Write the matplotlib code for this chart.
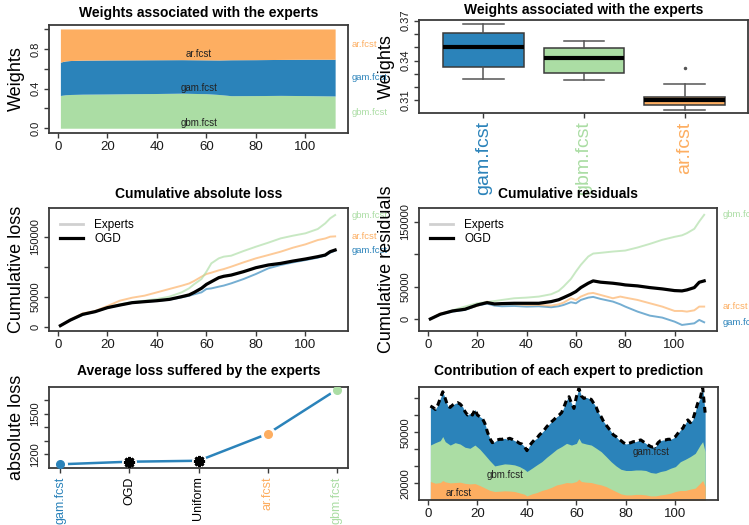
import numpy as np
import matplotlib
matplotlib.use("Agg")
import matplotlib.pyplot as plt
from matplotlib.transforms import blended_transform_factory as blend

plt.rcParams["font.family"] = ["Liberation Sans", "DejaVu Sans"]

BLUE, GREEN, ORANGE = "#2b83ba", "#abdda4", "#fdae61"
EDGE = "#3a3a3a"

# ── weights over time ───────────────────────────────────────────────────────
t_w   = [1, 3, 5, 10, 20, 30, 40, 50, 60, 65, 70, 80, 90, 100, 112]
w_gbm = [0.330, 0.337, 0.340, 0.343, 0.345, 0.348, 0.350, 0.353, 0.348, 0.340, 0.328, 0.329, 0.331, 0.329, 0.325]
w_ar  = [0.334, 0.322, 0.318, 0.314, 0.312, 0.311, 0.310, 0.309, 0.311, 0.312, 0.310, 0.309, 0.307, 0.305, 0.305]
w_gam = [round(1 - a - b, 3) for a, b in zip(w_gbm, w_ar)]

# ── boxplot of weights ──────────────────────────────────────────────────────
box_names  = ["gam.fcst", "gbm.fcst", "ar.fcst"]
box_colors = [BLUE, GREEN, ORANGE]
box_whislo = [0.3260, 0.3250, 0.3030]
box_q1     = [0.3355, 0.3306, 0.3063]
box_med    = [0.3500, 0.3418, 0.3105]
box_q3     = [0.3610, 0.3498, 0.3128]
box_whishi = [0.3675, 0.3548, 0.3225]
box_fliers = [[], [], [0.3343]]

# ── cumulative absolute loss ────────────────────────────────────────────────
t_loss   = [1, 5, 10, 15, 20, 25, 30, 35, 40, 45, 50, 53, 55, 58, 60, 62, 65, 67, 70, 75,
            80, 85, 90, 95, 100, 105, 108, 110, 112]
loss_ogd = [1700, 11000, 20500, 25000, 31700, 36000, 40000, 41700, 43300, 45500, 50000, 53000,
            57000, 64000, 70500, 75000, 81700, 84000, 86000, 91700, 98300, 102800, 105500,
            109400, 112800, 116700, 119400, 125000, 127800]
loss_gam = [1700, 10800, 20000, 24800, 31500, 35800, 39800, 41500, 43000, 45000, 48900, 51500,
            53900, 57200, 62800, 63800, 66700, 68500, 72200, 79400, 87800, 97200, 102800,
            107200, 111000, 115000, 118500, 123300, 126700]
loss_ar  = [1700, 11500, 22200, 26100, 34400, 43300, 48300, 51700, 57200, 62800, 68300, 72000,
            76100, 83300, 87800, 90000, 93900, 96000, 100000, 107200, 113900, 119400, 125000,
            131700, 137200, 144400, 147000, 150000, 150500]
loss_gbm = [1700, 11000, 20500, 25000, 31700, 37200, 41100, 43300, 46100, 50000, 57200, 63900,
            70600, 79400, 91700, 105600, 113900, 116700, 118300, 126100, 133300, 140000, 147200,
            151700, 155600, 162800, 172200, 180600, 186100]

# ── cumulative residuals ────────────────────────────────────────────────────
t_res   = [1, 5, 10, 15, 20, 24, 27, 30, 35, 40, 45, 50, 53, 55, 58, 60, 62, 65, 67, 70, 75, 78,
           80, 85, 90, 95, 100, 103, 105, 108, 110, 112]
res_ogd = [500, 7700, 12800, 15400, 22000, 25600, 23600, 24100, 24600, 24600, 24600, 27200, 30000,
           33300, 38500, 42600, 48700, 55400, 59000, 57000, 55400, 54000, 52800, 51300, 48700,
           46700, 44100, 43600, 45100, 48700, 56900, 59000]
res_gbm = [500, 7700, 13800, 19500, 24600, 26500, 28000, 29700, 32300, 33300, 34900, 38500, 43600,
           50300, 62100, 73300, 83600, 96400, 101000, 102100, 104100, 105000, 105600, 110300,
           115900, 122100, 126700, 129000, 132300, 139000, 150300, 160500]
res_ar  = [500, 8700, 12800, 15900, 20500, 27200, 23100, 23100, 23100, 22000, 22000, 21000, 23000,
           25600, 32300, 29700, 34900, 39500, 40500, 37400, 32300, 34900, 33300, 29700, 24600,
           19500, 12800, 12800, 11800, 13800, 19500, 19500]
res_gam = [500, 7700, 11800, 14400, 21000, 24100, 21000, 20000, 20500, 19500, 20000, 18500, 20000,
           22000, 26200, 24600, 29700, 33300, 34400, 31300, 27200, 23000, 19500, 11800, 5600,
           2600, -3600, -8700, -7700, -6200, -1000, -4600]

# ── average loss ────────────────────────────────────────────────────────────
avg_names  = ["gam.fcst", "OGD", "Uniform", "ar.fcst", "gbm.fcst"]
avg_values = [1127, 1146, 1153, 1351, 1676]
avg_colors = [BLUE, "black", "black", ORANGE, GREEN]

# ── contribution of each expert to prediction ───────────────────────────────
prediction = [65500, 64700, 63500, 66100, 70000, 73900, 70000, 65500, 64700, 66100,
              67000, 67500, 66700, 65100, 62200, 60200, 61200, 60200, 63500, 60200,
              59200, 58200, 55300, 50400, 46500, 43900, 44500, 45500, 45900, 45900,
              46500, 45900, 46500, 45900, 45100, 44500, 43500, 43100, 41600, 39200,
              42000, 43900, 45500, 46500, 48400, 49800, 51400, 53300, 54900, 56300,
              57600, 59200, 60200, 61600, 65100, 69000, 71000, 67100, 64100, 71000,
              75900, 71400, 70000, 70600, 70000, 69400, 67100, 64700, 61200, 59200,
              56300, 54300, 52400, 50400, 48400, 47500, 45900, 45100, 43900, 43100,
              43500, 43900, 44500, 44500, 45100, 45500, 44500, 43500, 42500, 41600,
              41200, 41600, 43900, 45100, 45500, 45500, 45900, 45900, 46500, 47500,
              49400, 51400, 52400, 55300, 57300, 55700, 57300, 62200, 67100, 70000,
              76500, 61600]
t_pred = list(range(1, len(prediction) + 1))
t_contrib = [1, 3, 5, 6, 7, 9, 11, 13, 15, 17, 19, 21, 23, 25, 27, 29, 31, 33, 35, 37, 39, 40,
             42, 44, 46, 48, 50, 52, 54, 56, 58, 60, 61, 62, 64, 66, 68, 70, 72, 74, 76, 78, 80,
             82, 84, 86, 88, 90, 92, 94, 96, 98, 100, 102, 104, 106, 108, 110, 111, 112]
top_ar_gbm = [42500, 43900, 45100, 47500, 44500, 42500, 43900, 43100, 41200, 40600, 42500, 40000,
              36700, 33300, 30200, 30800, 31400, 31200, 30800, 29800, 28200, 26900, 28800, 30800,
              32700, 35300, 37600, 40000, 41600, 43500, 42500, 43500, 46500, 43900, 43100, 42500,
              40600, 38600, 35700, 32700, 30200, 28200, 27500, 27500, 27800, 27800, 27500, 26300,
              25900, 26900, 27500, 28800, 29800, 32700, 34100, 35700, 37600, 42500, 44500, 38600]
top_ar = [21000, 20000, 20400, 21600, 20800, 20200, 20400, 20600, 19900, 19600, 19800, 18600,
          17200, 15800, 15100, 15300, 15500, 15400, 15100, 14300, 13500, 12500, 13700, 14500,
          15700, 16500, 17600, 19000, 19600, 20400, 20200, 21000, 22400, 21000, 20600, 20400,
          19600, 19000, 18000, 16500, 15100, 13700, 13100, 13100, 13400, 13400, 13100, 12500,
          12500, 13100, 13500, 14100, 15100, 15700, 15700, 16500, 17100, 20000, 21600, 18000]

# ── figure ──────────────────────────────────────────────────────────────────
W, H = 749, 525
fig = plt.figure(figsize=(W / 100, H / 100), dpi=100)
XLIM = (-3.6, 117.2)


def box(x0, y0, x1, y1):
    return fig.add_axes([x0 / W, 1 - y1 / H, (x1 - x0) / W, (y1 - y0) / H])


def style(ax, width_px):
    for s in ax.spines.values():
        s.set_color(EDGE)
        s.set_linewidth(1.3)
    ax.tick_params(colors=EDGE, labelcolor="#1a1a1a", length=3.6, width=1, pad=2.5, labelsize=9.5)
    ax.tick_params(axis="y", labelsize=8)
    ax.yaxis.set_label_coords(-24 / width_px, 0.5)


def rotate_y(ax):
    for lab in ax.get_yticklabels():
        lab.set_rotation(90)
        lab.set_va("center")
        lab.set_ha("right")


def right_label(ax, y, text, color, dx=0.012):
    ax.text(1 + dx, y, text, transform=blend(ax.transAxes, ax.transData), color=color,
            fontsize=6.8, va="center", ha="left", clip_on=False)


# 1. stacked weights
ax1 = box(49, 25, 348, 133)
style(ax1, 299)
lo = np.zeros(len(t_w))
for name, w, c in [("gbm.fcst", w_gbm, GREEN), ("gam.fcst", w_gam, BLUE), ("ar.fcst", w_ar, ORANGE)]:
    hi = lo + np.array(w)
    ax1.fill_between(t_w, lo, hi, color=c, lw=0)
    ax1.text(57, np.interp(57, t_w, lo) + 0.005, name, ha="center", va="bottom", fontsize=7, color="#222")
    right_label(ax1, (lo[-1] + hi[-1]) / 2, name, c)
    lo = hi
ax1.set_xlim(*XLIM)
ax1.set_ylim(-0.048, 1.04)
ax1.set_xticks(range(0, 101, 20))
ax1.set_yticks([0, 0.2, 0.4, 0.6, 0.8, 1.0])
ax1.set_yticklabels(["0.0", "", "0.4", "", "0.8", ""])
rotate_y(ax1)
ax1.set_ylabel("Weights", fontsize=13)
ax1.set_title("Weights associated with the experts", fontsize=10, fontweight="bold", pad=6)

# 2. boxplot of weights
ax2 = box(419, 20, 748, 113)
style(ax2, 329)
stats = [dict(whislo=a, q1=b, med=c, q3=d, whishi=e, fliers=f)
         for a, b, c, d, e, f in zip(box_whislo, box_q1, box_med, box_q3, box_whishi, box_fliers)]
bp = ax2.bxp(stats, positions=[1, 2, 3], widths=0.8, patch_artist=True,
             boxprops=dict(edgecolor=EDGE, linewidth=1.1),
             medianprops=dict(color="black", linewidth=3),
             whiskerprops=dict(color="#555555", linewidth=1.1),
             capprops=dict(color="#555555", linewidth=1.1),
             flierprops=dict(marker=".", markersize=3, markerfacecolor="#555555", markeredgecolor="#555555"))
for patch, c in zip(bp["boxes"], box_colors):
    patch.set_facecolor(c)
ax2.set_xlim(0.36, 3.63)
ax2.set_ylim(0.3005, 0.3705)
ax2.set_yticks([0.31, 0.32, 0.33, 0.34, 0.35, 0.36, 0.37])
ax2.set_yticklabels(["0.31", "", "", "0.34", "", "", "0.37"])
rotate_y(ax2)
ax2.set_xticks([1, 2, 3])
ax2.set_xticklabels(box_names, rotation=90, fontsize=14)
for lab, c in zip(ax2.get_xticklabels(), box_colors):
    lab.set_color(c)
ax2.set_ylabel("Weights", fontsize=13)
ax2.set_title("Weights associated with the experts", fontsize=10, fontweight="bold", pad=4.5)

# 3. cumulative loss
ax3 = box(49, 208, 348, 331)
style(ax3, 299)
for name, vals, c in [("gam.fcst", loss_gam, BLUE), ("ar.fcst", loss_ar, ORANGE), ("gbm.fcst", loss_gbm, GREEN)]:
    ax3.plot(t_loss, vals, color=c, lw=1.4, alpha=0.65)
    right_label(ax3, vals[-1], name, c)
ax3.plot([], [], color="#d0d0d0", lw=2, label="Experts")
ax3.plot(t_loss, loss_ogd, color="black", lw=2.3, label="OGD")
ax3.legend(loc="upper left", frameon=False, fontsize=8.5, handlelength=1.9, borderaxespad=0.55,
           labelspacing=0.15, handletextpad=1.0)
ax3.set_xlim(*XLIM)
ax3.set_ylim(-7200, 197800)
ax3.set_xticks(range(0, 101, 20))
ax3.set_yticks([0, 50000, 100000, 150000])
ax3.set_yticklabels(["0", "50000", "", "150000"])
rotate_y(ax3)
ax3.set_ylabel("Cumulative loss", fontsize=13)
ax3.set_title("Cumulative absolute loss", fontsize=10, fontweight="bold", pad=7)

# 4. cumulative residuals
ax4 = box(419, 208, 717, 331)
style(ax4, 298)
for name, vals, c in [("gam.fcst", res_gam, BLUE), ("ar.fcst", res_ar, ORANGE), ("gbm.fcst", res_gbm, GREEN)]:
    ax4.plot(t_res, vals, color=c, lw=1.4, alpha=0.65)
    right_label(ax4, vals[-1], name, c, dx=0.02)
ax4.plot([], [], color="#d0d0d0", lw=2, label="Experts")
ax4.plot(t_res, res_ogd, color="black", lw=2.3, label="OGD")
ax4.legend(loc="upper left", frameon=False, fontsize=8.5, handlelength=1.9, borderaxespad=0.55,
           labelspacing=0.15, handletextpad=1.0)
ax4.set_xlim(*XLIM)
ax4.set_ylim(-18000, 171000)
ax4.set_xticks(range(0, 101, 20))
ax4.set_yticks([0, 50000, 100000, 150000])
ax4.set_yticklabels(["0", "50000", "", "150000"])
rotate_y(ax4)
ax4.set_ylabel("Cumulative residuals", fontsize=13)
ax4.set_title("Cumulative residuals", fontsize=10, fontweight="bold", pad=7)

# 5. average loss
ax5 = box(49, 386.7, 348, 467.7)
style(ax5, 299)
xs = np.arange(1, len(avg_values) + 1)
ax5.plot(xs, avg_values, color=BLUE, lw=1.8, zorder=1)
ax5.scatter(xs, avg_values, s=95, color="white", zorder=2)
for x, v, c in zip(xs, avg_values, avg_colors):
    if c == "black":
        ax5.plot(x, v, marker=(8, 2, 0), ms=8, mew=2, color="black", zorder=3)
    else:
        ax5.plot(x, v, "o", ms=5.5, color=c, zorder=3)
ax5.set_xlim(0.84, 5.16)
ax5.set_ylim(1102, 1697)
ax5.set_yticks([1200, 1300, 1400, 1500, 1600])
ax5.set_yticklabels(["1200", "", "", "1500", ""])
rotate_y(ax5)
ax5.set_xticks(xs)
ax5.set_xticklabels(avg_names, rotation=90, fontsize=9)
for lab, c in zip(ax5.get_xticklabels(), avg_colors):
    lab.set_color(c)
ax5.set_ylabel("absolute loss", fontsize=13)
ax5.set_title("Average loss suffered by the experts", fontsize=10, fontweight="bold", pad=8.5)

# 6. contributions
ax6 = box(419, 386.7, 718, 500)
style(ax6, 299)
ax6.fill_between(t_pred, 0, prediction, color=BLUE, lw=0)
ax6.fill_between(t_contrib, 0, top_ar_gbm, color=GREEN, lw=0)
ax6.fill_between(t_contrib, 0, top_ar, color=ORANGE, lw=0)
ax6.plot(t_pred, prediction, color="black", lw=2.2, dashes=(2.0, 1.4))
ax6.text(90, 38500, "gam.fcst", fontsize=7, ha="center", va="center", color="#222")
ax6.text(31, 24900, "gbm.fcst", fontsize=7, ha="center", va="center", color="#222")
ax6.text(12.4, 14300, "ar.fcst", fontsize=7, ha="center", va="center", color="#222")
ax6.set_xlim(*XLIM)
ax6.set_ylim(10100, 76900)
ax6.set_xticks(range(0, 101, 20))
ax6.set_yticks([20000, 30000, 40000, 50000, 60000, 70000])
ax6.set_yticklabels(["20000", "", "", "50000", "", ""])
rotate_y(ax6)
ax6.set_title("Contribution of each expert to prediction", fontsize=10, fontweight="bold", pad=8.5)

fig.savefig("out.png", dpi=100)
